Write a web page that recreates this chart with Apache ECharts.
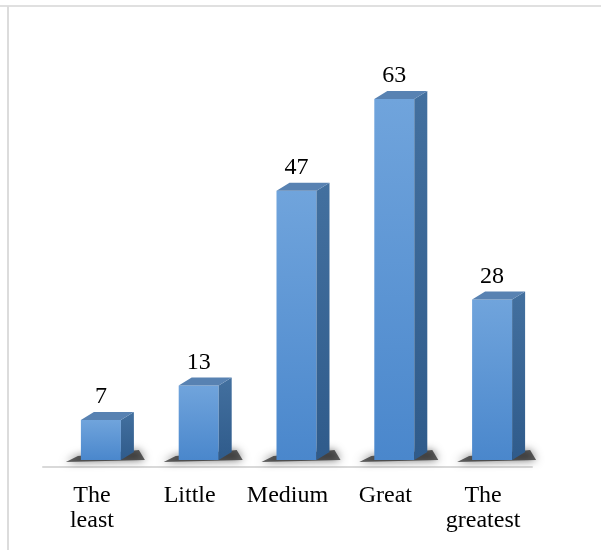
<!DOCTYPE html>
<html>
<head>
<meta charset="utf-8">
<script src="https://cdn.jsdelivr.net/npm/echarts@6/dist/echarts.min.js"></script>
<style>html,body{margin:0;padding:0;background:#fff;}#main{width:601px;height:550px;}</style>
</head>
<body>
<div id="main"></div>
<script>
const categories = ['The\nleast', 'Little', 'Medium', 'Great', 'The\ngreatest'];
const values = [7, 13, 47, 63, 28];

const FONT = 'Liberation Serif';
const chart = echarts.init(document.getElementById('main'));
const W = 40, DX = 13, DY = 8, SHIFT = 9, LIFT = 7;

function renderItem(params, api) {
  const idx = api.value(0), v = api.value(1);
  const p = api.coord([idx, v]);
  const b = api.coord([idx, 0]);
  const x0 = p[0] - W / 2 + SHIFT;
  const yt = p[1] - LIFT, yb = b[1] - LIFT;
  return {
    type: 'group',
    children: [
      { type: 'polygon', shape: { points: [[x0 - 15, yb + 2], [x0 + W + DX + 11, yb], [x0 + W + DX + 5, yb - DY - 2], [x0 - 3, yb - 4]] },
        style: { fill: 'rgba(20,20,20,0.65)', shadowBlur: 9, shadowColor: 'rgba(0,0,0,0.85)' } },
      { type: 'rect', shape: { x: x0, y: yt, width: W, height: yb - yt },
        style: { fill: new echarts.graphic.LinearGradient(0, 0, 0, 1, [{ offset: 0, color: '#70a4dc' }, { offset: 1, color: '#4a87cc' }]) } },
      { type: 'polygon', shape: { points: [[x0 + W, yt], [x0 + W + DX, yt - DY], [x0 + W + DX, yb - DY], [x0 + W, yb]] },
        style: { fill: new echarts.graphic.LinearGradient(0, 0, 0, 1, [{ offset: 0, color: '#43709f' }, { offset: 1, color: '#2f5b8b' }]) } },
      { type: 'polygon', shape: { points: [[x0, yt], [x0 + DX, yt - DY], [x0 + W + DX, yt - DY], [x0 + W, yt]] },
        style: { fill: '#5882b2' } },
      { type: 'text', style: { text: String(v), x: x0 + W / 2, y: yt - DY - 3, align: 'center', verticalAlign: 'bottom',
        fontFamily: FONT, fontSize: 24, fill: '#000' } }
    ]
  };
}

chart.setOption({
  animation: false,
  grid: { left: 43, right: 69, top: 66, bottom: 83 },
  xAxis: {
    type: 'category',
    data: categories,
    axisLine: { show: true, lineStyle: { color: '#d9d9d9', width: 2 } },
    axisTick: { show: false },
    axisLabel: { margin: 16, fontFamily: FONT, fontSize: 24, lineHeight: 25, color: '#000', interval: 0 }
  },
  yAxis: { type: 'value', min: 0, max: 70, show: false, splitLine: { show: false } },
  series: [{
    type: 'custom',
    renderItem: renderItem,
    data: values.map((v, i) => [i, v]),
    clip: false,
    z: 3
  }],
  graphic: [
    { type: 'line', shape: { x1: 0, y1: 6, x2: 601, y2: 6 }, style: { stroke: '#e0e0e0', lineWidth: 2 } },
    { type: 'line', shape: { x1: 8, y1: 6, x2: 8, y2: 550 }, style: { stroke: '#dcdcdc', lineWidth: 2 } }
  ]
});
</script>
</body>
</html>
